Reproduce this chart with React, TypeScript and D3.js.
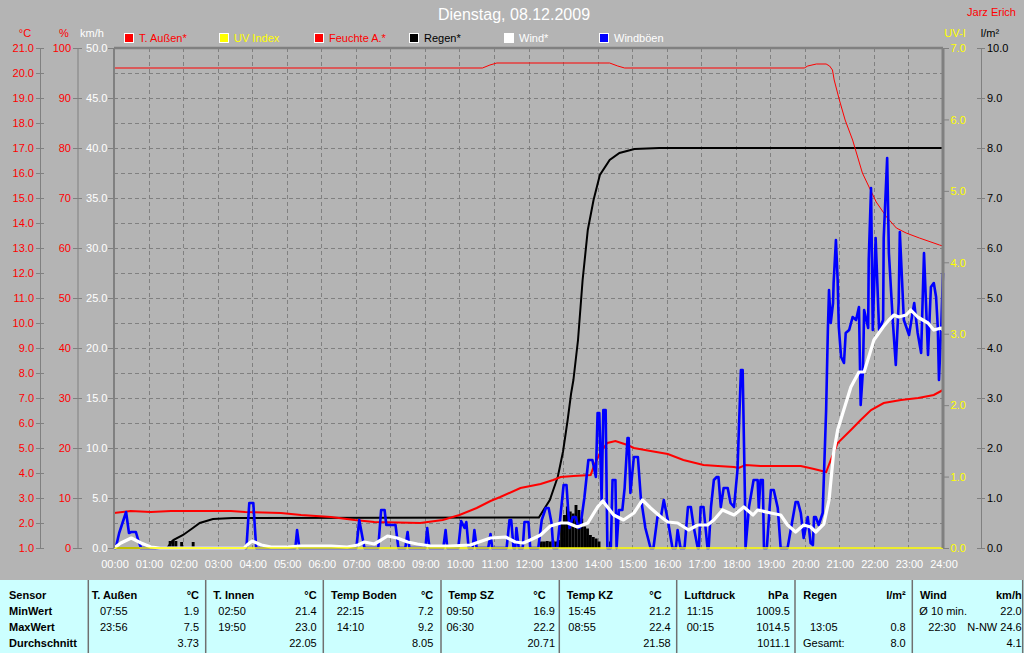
import React from "react";
import * as d3 from "d3";

// ---------- DATA ----------
const title = "Dienstag, 08.12.2009";
const author = "Jarz Erich";
const hourLabels = ["00:00","01:00","02:00","03:00","04:00","05:00","06:00","07:00","08:00","09:00","10:00","11:00","12:00","13:00","14:00","15:00","16:00","17:00","18:00","19:00","20:00","21:00","22:00","23:00","24:00"];
const tempTicks = [1,2,3,4,5,6,7,8,9,10,11,12,13,14,15,16,17,18,19,20,21];
const humTicks = [0,10,20,30,40,50,60,70,80,90,100];
const windTicks = [0,5,10,15,20,25,30,35,40,45,50];
const uvTicks = [0,1,2,3,4,5,6,7];
const rainTicks = [0,1,2,3,4,5,6,7,8,9,10];

const legendNames = ["T. Außen*","UV Index","Feuchte A.*","Regen*","Wind*","Windböen"];
const legendColors = ["#ff0000","#ffff00","#ff0000","#000000","#ffffff","#0000ff"];
const legendTextColors = ["#ff0000","#ffff00","#ff0000","#000000","#ffffff","#ffffff"];

// [minute of day, value]
const tempOut: [number, number][] = [
  [0,2.40],[29,2.48],[64,2.44],[99,2.48],[203,2.48],[228,2.44],[290,2.40],[325,2.32],[377,2.24],[418,2.12],
  [452,2.04],[532,2.00],[571,2.12],[600,2.32],[630,2.60],[654,2.88],[671,3.04],[706,3.40],[741,3.56],[763,3.72],
  [776,3.84],[798,3.88],[828,3.92],[833,4.24],[845,4.84],[857,5.20],[871,5.28],[892,5.12],[903,5.00],[932,4.88],
  [962,4.76],[989,4.52],[1024,4.32],[1049,4.28],[1077,4.24],[1085,4.20],[1097,4.32],[1123,4.28],[1193,4.28],[1216,4.16],
  [1237,4.04],[1245,4.52],[1257,5.20],[1280,5.72],[1297,6.12],[1315,6.52],[1337,6.80],[1367,6.92],[1397,7.00],[1424,7.12],[1440,7.32]
];

const humidity: [number, number][] = [
  [0,96.0],[640,96.0],[653,96.6],[665,97.0],[861,97.0],[875,96.4],[887,96.0],[1199,96.0],[1205,96.4],[1220,96.8],
  [1237,96.8],[1243,96.4],[1248,95.6],[1251,93.6],[1260,89.6],[1270,85.6],[1283,81.6],[1300,75.0],[1324,69.2],[1342,66.2],
  [1359,64.0],[1376,63.0],[1399,62.0],[1434,60.6],[1440,60.4]
];

const rainTotal: [number, number][] = [
  [0,0],[92,0],[103,0.16],[120,0.26],[137,0.40],[149,0.50],[172,0.58],[206,0.60],[738,0.61],[757,0.96],
  [771,1.43],[780,1.93],[788,2.56],[794,3.09],[798,3.36],[806,4.16],[814,5.36],[823,6.36],[833,6.96],[844,7.46],
  [861,7.76],[878,7.90],[904,7.98],[947,8.0],[1440,8.0]
];

const rainBars: [number, number][] = [
  [95,0.14],[100,0.16],[105,0.14],[115,0.12],[135,0.12],
  [740,0.13],[745,0.13],[750,0.14],[755,0.13],[760,0.15],[765,0.13],[770,0.16],[775,0.49],[780,0.66],[785,0.83],
  [790,0.73],[795,0.69],[800,0.86],[805,0.76],[810,0.59],[815,0.43],[820,0.39],[825,0.26],[830,0.22],[835,0.19],
  [840,0.13],[860,0.13]
];

const uvIndex: [number, number][] = [[0,0],[1440,0]];

const windAvg: [number, number][] = [
  [0,0],[12,0.5],[30,1.0],[47,0.5],[64,0.1],[80,0],[226,0],[231,0.3],[240,0.7],[256,0.3],[273,0.1],[301,0.1],
  [322,0.2],[377,0.2],[405,0.1],[424,0.3],[435,0.6],[452,0.4],[464,0.8],[475,1.2],[492,1.0],[510,0.6],[527,0.4],
  [550,0.2],[584,0.2],[619,0.3],[654,1.0],[680,1.1],[697,0.6],[711,0.5],[723,0.8],[741,1.3],[758,2.2],[776,2.5],
  [788,2.5],[805,2.1],[823,2.5],[840,4.1],[849,4.7],[857,4.1],[868,3.3],[885,2.8],[903,3.5],[918,4.8],[932,4.0],
  [950,3.1],[962,2.6],[979,2.5],[998,1.8],[1014,2.3],[1031,2.3],[1042,2.8],[1057,3.8],[1077,3.3],[1094,4.1],
  [1110,3.3],[1118,3.8],[1141,3.5],[1158,3.3],[1170,2.3],[1184,1.6],[1198,2.3],[1210,2.1],[1219,1.6],[1233,2.4],
  [1242,4.8],[1250,9.5],[1257,11.8],[1266,13.5],[1280,16.1],[1294,17.6],[1303,17.6],[1311,19.1],[1320,20.8],
  [1336,22.1],[1346,22.8],[1355,23.3],[1363,23.1],[1376,23.3],[1384,23.8],[1396,23.1],[1414,22.5],[1424,21.8],
  [1437,22.0],[1440,21.8]
];

const windGust: [number, number][] = [
  [0,0],[3,0],[9,1.5],[21,3.6],[26,1.5],[30,1.6],[38,1.6],[42,0.8],[47,0],
  [230,0],[235,4.5],[242,4.5],[247,0],
  [315,0],[318,1.8],[322,0],
  [421,0],[426,2.8],[435,0],
  [459,0],[464,3.8],[470,3.8],[473,2.3],[489,2.3],[494,0],
  [506,0],[510,1.6],[513,0],
  [541,0],[544,2.0],[548,0],
  [572,0],[576,1.8],[579,0],
  [598,0],[603,2.7],[609,2.0],[612,2.6],[616,0],
  [623,0],[626,1.8],[630,0],
  [650,0],[654,1.4],[657,0],
  [682,0],[687,2.8],[690,2.8],[694,0],
  [697,0],[699,2.0],[703,0],
  [710,0],[713,2.6],[720,2.6],[723,0],
  [737,0],[743,2.8],[750,4.0],[755,4.0],[760,2.5],[763,0],
  [770,0],[776,3.5],[781,6.3],[786,6.3],[791,2.0],[797,3.1],[802,3.1],[807,2.0],[810,2.1],[817,5.0],[824,8.8],
  [831,8.8],[837,7.1],[840,13.5],[843,13.5],[847,4.8],[850,13.8],[854,13.8],[857,0],[863,0],[866,6.8],[871,6.8],
  [873,0],[877,3.8],[883,3.8],[887,6.0],[892,11.0],[894,11.0],[897,5.5],[903,9.1],[910,9.1],[915,5.1],[923,2.0],
  [932,0],[937,0],[944,3.1],[950,3.1],[955,4.8],[962,2.8],[970,0],[976,0],[979,1.8],[984,0],[991,0],[997,4.1],
  [1002,4.1],[1007,2.1],[1014,0],[1016,0],[1019,4.1],[1024,4.1],[1031,0],[1033,0],[1037,4.1],[1042,6.8],[1047,7.1],
  [1050,7.1],[1054,4.1],[1059,6.0],[1066,6.0],[1071,4.5],[1077,4.1],[1083,7.8],[1089,17.8],[1092,17.8],[1096,5.0],
  [1097,0],[1103,4.1],[1111,6.8],[1118,6.8],[1120,4.0],[1123,6.8],[1127,6.8],[1129,0],[1134,0],[1141,5.8],[1146,5.8],
  [1153,4.0],[1158,0],[1170,0],[1184,4.6],[1188,4.6],[1193,3.5],[1198,1.0],[1205,3.1],[1210,0.5],[1214,0.3],
  [1216,3.1],[1219,3.1],[1224,2.3],[1231,3.5],[1237,13.8],[1240,21.8],[1242,25.8],[1245,22.5],[1249,24.5],[1250,26.5],
  [1254,30.8],[1257,26.8],[1259,22.1],[1263,19.1],[1268,18.5],[1271,21.5],[1277,21.8],[1283,23.1],[1289,22.8],
  [1294,24.1],[1297,14.3],[1301,17.8],[1303,23.8],[1310,22.0],[1311,28.8],[1315,36.0],[1318,21.8],[1323,31.0],
  [1329,21.8],[1336,22.8],[1337,31.0],[1343,39.0],[1346,29.5],[1353,22.5],[1358,18.3],[1363,24.5],[1365,31.6],
  [1372,22.8],[1381,21.3],[1390,24.5],[1396,21.5],[1402,19.5],[1407,29.5],[1414,19.3],[1419,26.1],[1424,26.5],
  [1428,25.1],[1431,22.0],[1433,16.8],[1437,22.1],[1440,27.5]
];

// table
const sensorNames = ["T. Außen","T. Innen","Temp Boden","Temp SZ","Temp KZ","Luftdruck","Regen","Wind"];
const sensorUnits = ["°C","°C","°C","°C","°C","hPa","l/m²","km/h"];
const rowLabels = ["Sensor","MinWert","MaxWert","Durchschnitt"];
const minTimes = ["07:55","02:50","22:15","09:50","15:45","11:15","","Ø 10 min."];
const minValues = ["1.9","21.4","7.2","16.9","21.2","1009.5","","22.0"];
const maxTimes = ["23:56","19:50","14:10","06:30","08:55","00:15","13:05","22:30"];
const maxValues = ["7.5","23.0","9.2","22.2","22.4","1014.5","0.8","N-NW 24.6"];
const avgLabels = ["","","","","","","Gesamt:",""];
const avgValues = ["3.73","22.05","8.05","20.71","21.58","1011.1","8.0","4.1"];

// ---------- LAYOUT ----------
const W = 1024, H = 653;
const L = 114, R = 943, T = 48, B = 548;
const FONT = "'Liberation Sans', Arial, sans-serif";
const BG = "#b4b4b4";
const GRID = "#808080";

const colStarts = [88.3, 205.7, 323.3, 441, 559.3, 676.7, 795, 912.3, 1022.7];
const nameInset = [3.4, 7.6, 7.7, 7.3, 7.4, 7.6, 8.3, 7.7];
const timeInset = [11.7, 12.6, 13.4, 5.4, 9, 10, 15, 16];
const unitInset = [6.7, 6.6, 7.7, 13.6, 15, 6.7, 6.6, 1];
const valInset = [6.7, 6.6, 7.7, 4.3, 6, 5, 6.6, 1];

export default function App() {
  const x = d3.scaleLinear().domain([0, 1440]).range([L, R]);
  const yTemp = d3.scaleLinear().domain([1, 21]).range([B, T]);
  const yHum = d3.scaleLinear().domain([0, 100]).range([B, T]);
  const yWind = d3.scaleLinear().domain([0, 50]).range([B, T]);
  const yUV = d3.scaleLinear().domain([0, 7]).range([B, T]);
  const yRain = d3.scaleLinear().domain([0, 10]).range([B, T]);

  const mk = (ys: d3.ScaleLinear<number, number>) =>
    d3.line<[number, number]>().x(d => x(d[0])).y(d => ys(d[1])).curve(d3.curveLinear);

  const gridYs = d3.range(T + 25, B, 25);
  const hourMins = hourLabels.map((_, i) => i * 60);
  const barW = x(5) - x(0);

  const rowY = [599, 615, 631, 647];

  return (
    <svg width={W} height={H} style={{ position: "absolute", left: 0, top: 0, display: "block" }}
      fontFamily={FONT} fontSize={11}>
      <rect x={0} y={0} width={W} height={H} fill={BG} />

      {/* title */}
      <text x={514} y={20} textAnchor="middle" fill="#fff" fontSize={16}>{title}</text>
      <text x={1016} y={16} textAnchor="end" fill="#ff0000">{author}</text>

      {/* legend */}
      {legendNames.map((n, i) => (
        <g key={n} transform={`translate(${124 + i * 95},33)`}>
          <rect x={0} y={0} width={10} height={10} fill="#fff" />
          <rect x={1} y={1} width={8} height={8} fill={legendColors[i]} />
          <text x={15} y={9} fill={legendTextColors[i]}>{n}</text>
        </g>
      ))}

      {/* unit headers */}
      <text x={25} y={37} textAnchor="middle" fill="#ff0000">°C</text>
      <text x={64} y={37} textAnchor="middle" fill="#ff0000">%</text>
      <text x={92} y={37} textAnchor="middle" fill="#fff">km/h</text>
      <text x={955} y={37} textAnchor="middle" fill="#ffff00">UV-I</text>
      <text x={990} y={37} textAnchor="middle" fill="#000">l/m²</text>

      {/* grid */}
      {gridYs.map(gy => (
        <line key={"gy" + gy} x1={L} x2={R} y1={gy + 0.5} y2={gy + 0.5} stroke={GRID} strokeDasharray="4,3" />
      ))}
      {hourMins.slice(1, 24).map(m => (
        <line key={"gx" + m} x1={Math.round(x(m)) + 0.5} x2={Math.round(x(m)) + 0.5} y1={T} y2={B} stroke={GRID} strokeDasharray="4,3" />
      ))}

      {/* left axes */}
      <line x1={40.5} x2={40.5} y1={T} y2={B} stroke={GRID} />
      {tempTicks.map(v => (
        <g key={"t" + v}>
          <line x1={36} x2={44} y1={yTemp(v) + 0.5} y2={yTemp(v) + 0.5} stroke={GRID} />
          <text x={34} y={yTemp(v) + 4.3} textAnchor="end" fill="#ff0000">{v.toFixed(1)}</text>
        </g>
      ))}
      <line x1={78} x2={78} y1={T} y2={B} stroke={GRID} />
      {humTicks.map(v => (
        <g key={"h" + v}>
          <line x1={73} x2={82} y1={yHum(v) + 0.5} y2={yHum(v) + 0.5} stroke={GRID} />
          <text x={71} y={yHum(v) + 4.3} textAnchor="end" fill="#ff0000">{v}</text>
        </g>
      ))}
      {windTicks.map(v => (
        <g key={"w" + v}>
          <line x1={108} x2={114} y1={yWind(v) + 0.5} y2={yWind(v) + 0.5} stroke={GRID} />
          <text x={107.5} y={yWind(v) + 4.3} textAnchor="end" fill="#fff">{v.toFixed(1)}</text>
        </g>
      ))}

      {/* right axes */}
      {uvTicks.map(v => (
        <g key={"u" + v}>
          <line x1={943} x2={949} y1={yUV(v) + 0.5} y2={yUV(v) + 0.5} stroke={GRID} />
          <text x={950.5} y={yUV(v) + 4.3} fill="#ffff00">{v.toFixed(1)}</text>
        </g>
      ))}
      <line x1={981.5} x2={981.5} y1={T} y2={B} stroke={GRID} />
      {rainTicks.map(v => (
        <g key={"r" + v}>
          <line x1={977} x2={985} y1={yRain(v) + 0.5} y2={yRain(v) + 0.5} stroke={GRID} />
          <text x={987} y={yRain(v) + 4.3} fill="#000">{v.toFixed(1)}</text>
        </g>
      ))}

      {/* x labels */}
      {hourLabels.map((lab, i) => (
        <text key={lab} x={x(hourMins[i]) + 1} y={568} textAnchor="middle" fill="#fff">{lab}</text>
      ))}

      {/* series */}
      {rainBars.map(([m, v]) => (
        <rect key={"rb" + m} x={x(m)} y={yRain(v)} width={barW} height={B - yRain(v)} fill="#000" />
      ))}
      <path d={mk(yRain)(rainTotal) || ""} fill="none" stroke="#000" strokeWidth={2} />
      <path d={mk(yHum)(humidity) || ""} fill="none" stroke="#ff0000" strokeWidth={1} />
      <path d={mk(yTemp)(tempOut) || ""} fill="none" stroke="#ff0000" strokeWidth={2} />
      <path d={mk(yWind)(windGust) || ""} fill="none" stroke="#0000ff" strokeWidth={2.6} strokeLinejoin="round" />
      <path d={mk(yWind)(windAvg) || ""} fill="none" stroke="#ffffff" strokeWidth={3.2} strokeLinejoin="round" />
      <path d={mk(yUV)(uvIndex) || ""} fill="none" stroke="#ffff00" strokeWidth={1.5} />

      {/* plot frame */}
      <line x1={L} x2={R} y1={T} y2={T} stroke={GRID} strokeWidth={2.5} />
      <line x1={L} x2={L} y1={T} y2={B} stroke={GRID} strokeWidth={2} />
      <line x1={R} x2={R} y1={T} y2={B} stroke={GRID} strokeWidth={3} />

      {/* table */}
      <rect x={0} y={580} width={W} height={H - 580} fill="#ccffff" />
      {colStarts.map(cx => (
        <line key={"c" + cx} x1={cx} x2={cx} y1={580} y2={H} stroke="#707070" strokeWidth={1.5} />
      ))}
      {rowLabels.map((r, i) => (
        <text key={r} x={9} y={rowY[i]} fontWeight="bold" fill="#000">{r}</text>
      ))}
      {sensorNames.map((n, i) => {
        const c0 = colStarts[i], c1 = colStarts[i + 1];
        return (
          <g key={n} fill="#000">
            <text x={c0 + nameInset[i]} y={rowY[0]} fontWeight="bold">{n}</text>
            <text x={c1 - unitInset[i]} y={rowY[0]} fontWeight="bold" textAnchor="end">{sensorUnits[i]}</text>
            <text x={c0 + (i === 7 ? 7 : timeInset[i])} y={rowY[1]}>{minTimes[i]}</text>
            <text x={c1 - valInset[i]} y={rowY[1]} textAnchor="end">{minValues[i]}</text>
            <text x={c0 + timeInset[i]} y={rowY[2]}>{maxTimes[i]}</text>
            <text x={c1 - valInset[i]} y={rowY[2]} textAnchor="end">{maxValues[i]}</text>
            <text x={c0 + 8} y={rowY[3]}>{avgLabels[i]}</text>
            <text x={c1 - valInset[i]} y={rowY[3]} textAnchor="end">{avgValues[i]}</text>
          </g>
        );
      })}
    </svg>
  );
}
